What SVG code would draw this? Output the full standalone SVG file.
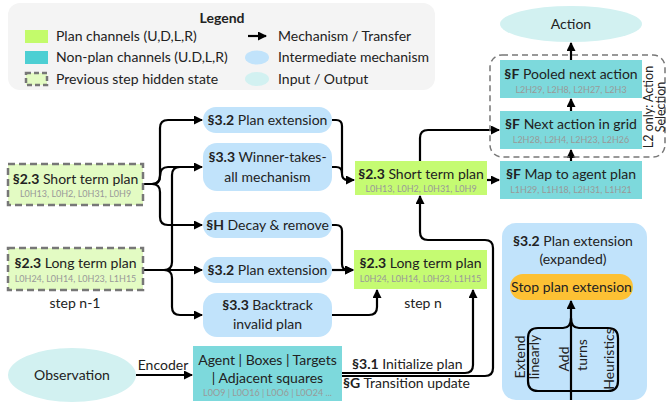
<svg xmlns="http://www.w3.org/2000/svg" width="668" height="403" viewBox="0 0 668 403">
<defs>
<marker id="ah" markerUnits="userSpaceOnUse" markerWidth="10" markerHeight="10" refX="8" refY="4.5" orient="auto">
<path d="M0,0 L9,4.5 L0,9 z" fill="#000"/>
</marker>
<style>
text{font-family:Lato,"Noto Sans","Liberation Sans",sans-serif;fill:#222;}
.t{font-size:14px;text-anchor:middle;}
.l{font-size:14px;}
.s{font-size:9px;fill:#999;text-anchor:middle;}
.b{font-weight:bold;}
.v{font-size:12.5px;text-anchor:middle;}
.plan{fill:#c5fb72;}
.prev{fill:#e3fbc3;stroke:#777;stroke-width:2.5;stroke-dasharray:7,4;}
.np{fill:#7dd9dc;}
.mech{fill:#c1e3fb;}
.io{fill:#d2f1f1;}
.c{fill:none;stroke:#000;stroke-width:2.2;}
.ca{fill:none;stroke:#000;stroke-width:2.2;marker-end:url(#ah);}
</style>
</defs>
<rect width="668" height="403" fill="#fff"/>

<g id="legend">
<rect x="8" y="3" width="427" height="87" rx="12" fill="#f4f4f4"/>
<text x="222" y="23" class="t b">Legend</text>
<rect x="25" y="30" width="23" height="13" fill="#c3fb6b"/>
<text x="56" y="41" class="l">Plan channels (U,D,L,R)</text>
<rect x="25" y="51" width="23" height="13" fill="#4dcfd3"/>
<text x="56" y="62" class="l">Non-plan channels (U.D,L,R)</text>
<rect x="26" y="73" width="21" height="12" fill="#e3fbc3" stroke="#777" stroke-width="2.5" stroke-dasharray="5,3"/>
<text x="56" y="84" class="l">Previous step hidden state</text>
<path d="M248,36 H266" class="ca"/>
<text x="278" y="41" class="l">Mechanism / Transfer</text>
<ellipse cx="257" cy="57.5" rx="12" ry="7" class="mech"/>
<text x="278" y="62" class="l">Intermediate mechanism</text>
<ellipse cx="257" cy="79" rx="12" ry="7" class="io"/>
<text x="278" y="84" class="l">Input / Output</text>
</g>

<g id="connectors">
<path d="M143,184 H152 Q160,184 160,176 V128 Q160,120 168,120 H202" class="ca"/>
<path d="M152,184 Q160,184 160,176 Q160,167 168,167 H202" class="ca"/>
<path d="M152,184 Q160,184 160,192 V217 Q160,225 168,225 H202" class="ca"/>
<path d="M143,270 H164 Q172,270 172,262 V175 Q172,167 180,167 H202" class="c"/>
<path d="M143,270 H202" class="ca"/>
<path d="M164,270 Q172,270 172,278 V307 Q172,315 180,315 H202" class="ca"/>
<path d="M332,120 H336 Q342,120 342,126 V174 Q342,180 348,180 H354" class="ca"/>
<path d="M332,167 H336 Q342,167 342,173" class="c"/>
<path d="M332,225 H336 Q342,225 342,231 V264 Q342,270 348,270 H353" class="ca"/>
<path d="M332,270 H353" class="ca"/>
<path d="M332,315 H369 Q377,315 377,307 V290" class="ca"/>
<path d="M487,180 H499" class="ca"/>
<path d="M420,161 V138 Q420,130 428,130 H499" class="ca"/>
<path d="M571,161 V150" class="ca"/>
<path d="M571,111 V99" class="ca"/>
<path d="M571,60 V43" class="ca"/>
<path d="M136,375 H192" class="ca"/>
<path d="M342,373 H465 Q473,373 473,365 V290" class="ca"/>
<path d="M342,376 H485 Q493,376 493,368 V248 Q493,240 485,240 H428 Q420,240 420,232 V196" class="ca"/>
</g>

<g id="action">
<ellipse cx="571" cy="24" rx="71" ry="18" class="io"/>
<text x="571" y="29" class="t">Action</text>
</g>

<g id="action-selection">
<rect x="490" y="55" width="175" height="102" rx="12" fill="none" stroke="#777" stroke-width="1.5" stroke-dasharray="6,4"/>
<text transform="translate(653,107) rotate(-90)" class="v">L2 only: Action</text>
<text transform="translate(665,107) rotate(-90)" class="v">Selection</text>
</g>

<g id="pooled-next-action">
<rect x="500" y="60" width="142" height="38" class="np"/>
<text x="571" y="79" class="t"><tspan class="b">§F</tspan> Pooled next action</text>
<text x="571" y="93" class="s">L2H29, L2H8, L2H27, L2H3</text>
</g>

<g id="next-action-grid">
<rect x="500" y="111" width="142" height="38" class="np"/>
<text x="571" y="129" class="t"><tspan class="b">§F</tspan> Next action in grid</text>
<text x="571" y="143" class="s">L2H28, L2H4, L2H23, L2H26</text>
</g>

<g id="map-agent-plan">
<rect x="500" y="161" width="142" height="38" class="np"/>
<text x="571" y="179" class="t"><tspan class="b">§F</tspan> Map to agent plan</text>
<text x="571" y="193" class="s">L1H29, L1H18, L2H31, L1H21</text>
</g>

<g id="short-term-n1">
<rect x="8" y="164" width="135" height="41" class="prev"/>
<text x="75.5" y="184" class="t"><tspan class="b">§2.3</tspan> Short term plan</text>
<text x="75.5" y="197" class="s">L0H13, L0H2, L0H31, L0H9</text>
</g>

<g id="long-term-n1">
<rect x="8" y="248" width="135" height="42" class="prev"/>
<text x="75.5" y="268" class="t"><tspan class="b">§2.3</tspan> Long term plan</text>
<text x="75.5" y="282" class="s">L0H24, L0H14, L0H23, L1H15</text>
<text x="75" y="308" class="t">step n-1</text>
</g>

<g id="plan-ext-1">
<rect x="203" y="107" width="129" height="26" rx="13" class="mech"/>
<text x="267.5" y="125" class="t"><tspan class="b">§3.2</tspan> Plan extension</text>
</g>

<g id="wta">
<rect x="203" y="143" width="129" height="48" rx="14" class="mech"/>
<text x="267.5" y="162" class="t"><tspan class="b">§3.3</tspan> Winner-takes-</text>
<text x="267.5" y="182" class="t">all mechanism</text>
</g>

<g id="decay">
<rect x="203" y="212" width="129" height="26" rx="13" class="mech"/>
<text x="267.5" y="230" class="t"><tspan class="b">§H</tspan> Decay &amp; remove</text>
</g>

<g id="plan-ext-2">
<rect x="203" y="257" width="129" height="26" rx="13" class="mech"/>
<text x="267.5" y="275" class="t"><tspan class="b">§3.2</tspan> Plan extension</text>
</g>

<g id="backtrack">
<rect x="203" y="293" width="129" height="44" rx="14" class="mech"/>
<text x="267.5" y="310" class="t"><tspan class="b">§3.3</tspan> Backtrack</text>
<text x="267.5" y="329" class="t">invalid plan</text>
</g>

<g id="short-term-n">
<rect x="355" y="161" width="132" height="34" class="plan"/>
<text x="421" y="179" class="t"><tspan class="b">§2.3</tspan> Short term plan</text>
<text x="421" y="192" class="s">L0H13, L0H2, L0H31, L0H9</text>
</g>

<g id="long-term-n">
<rect x="354" y="250" width="133" height="39" class="plan"/>
<text x="420.5" y="268" class="t"><tspan class="b">§2.3</tspan> Long term plan</text>
<text x="420.5" y="282" class="s">L0H24, L0H14, L0H23, L1H15</text>
<text x="423" y="308" class="t">step n</text>
</g>

<g id="observation">
<ellipse cx="72" cy="375" rx="64" ry="27" class="io"/>
<text x="72" y="380" class="t">Observation</text>
<text x="163" y="370" class="t">Encoder</text>
</g>

<g id="encoder-out">
<rect x="193" y="346" width="149" height="55" class="np"/>
<text x="267.5" y="365" class="t">Agent | Boxes | Targets</text>
<text x="267.5" y="383" class="t">| Adjacent squares</text>
<text x="267.5" y="396" class="s">L0O9 | L0O16 | L0O6 | L0O24 ...</text>
</g>

<g id="transition-labels">
<text x="352" y="369" class="l"><tspan class="b">§3.1</tspan> Initialize plan</text>
<text x="343" y="388" class="l"><tspan class="b">§G</tspan> Transition update</text>
</g>

<g id="plan-ext-expanded">
<rect x="502" y="223" width="145" height="177" rx="14" class="mech"/>
<text x="573" y="246" class="t"><tspan class="b">§3.2</tspan> Plan extension</text>
<text x="573" y="264" class="t">(expanded)</text>
<rect x="510" y="274" width="123" height="26" rx="13" fill="#fdc134"/>
<text x="571.5" y="292" class="t">Stop plan extension</text>
<path d="M571,400 V301" class="ca"/>
<path d="M571,318 Q571,328 563,328 H538 Q528,328 528,338 V381 Q528,391 538,391 H608 Q618,391 618,381 V338 Q618,328 608,328 H579 Q571,328 571,318" class="c"/>
<text transform="translate(525,357) rotate(-90)" class="t">Extend</text>
<text transform="translate(539,357) rotate(-90)" class="t">linearly</text>
<text transform="translate(569,359) rotate(-90)" class="t">Add</text>
<text transform="translate(587,355) rotate(-90)" class="t">turns</text>
<text transform="translate(614,359) rotate(-90)" class="t">Heuristics</text>
</g>
</svg>
